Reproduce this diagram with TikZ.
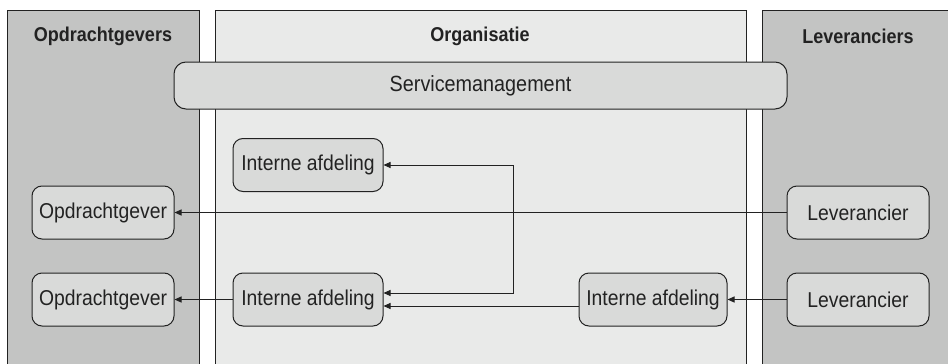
\documentclass[tikz,border=0pt]{standalone}
\usepackage{fontspec}
\setmainfont{Liberation Sans}[FakeStretch=0.9]
\usetikzlibrary{arrows.meta}
\definecolor{panelgray}{HTML}{C3C4C3}
\definecolor{orggray}{HTML}{E9EAE9}
\definecolor{boxgray}{HTML}{D9DAD9}
\definecolor{inkdark}{HTML}{222222}

\begin{document}
\begin{tikzpicture}[x=1pt, y=-1pt,
    panel/.style={draw=inkdark, line width=1pt},
    title/.style={font=\fontsize{20}{24}\selectfont\bfseries, text=inkdark},
    unit/.style={draw=inkdark, fill=boxgray, line width=1pt, rounded corners=10pt,
        font=\fontsize{21.5}{25}\selectfont, text=inkdark, inner sep=0pt,
        minimum height=53pt},
    flow/.style={draw=inkdark, line width=0.9pt, -{Triangle[length=7pt,width=6pt]}},
    twoflow/.style={draw=inkdark, line width=0.9pt, {Triangle[length=7pt,width=6pt]}-{Triangle[length=7pt,width=6pt]}}]
    \def\lanetop{10}
    \def\lanebot{380}
    \def\bendx{513}
    \def\dy{6.5pt}
    \useasboundingbox (0,0) rectangle (948,364);

    % the three lanes
    \fill[white] (0,0) rectangle (948,364);
    \fill[panelgray] (7,\lanetop) rectangle (199,\lanebot);
    \fill[orggray] (215,\lanetop) rectangle (746,\lanebot);
    \fill[panelgray] (762,\lanetop) rectangle (960,\lanebot);
    \draw[panel] (7,\lanebot) -- (7,\lanetop) -- (199,\lanetop) -- (199,\lanebot);
    \draw[panel] (215,\lanebot) -- (215,\lanetop) -- (746,\lanetop) -- (746,\lanebot);
    \draw[panel] (960,\lanetop) -- (762,\lanetop) -- (762,\lanebot);

    \node[title] (tgever) at (103,36) {Opdrachtgevers};
    \node[title] (torg) at (480,36) {Organisatie};
    \node[title] (tlev) at (858,36) {Leveranciers};

    \node[unit, minimum width=613pt, minimum height=47pt, rounded corners=12pt,
        font=\fontsize{22}{26}\selectfont] (sm) at (480.5,85.5) {Servicemanagement};

    % units
    \node[unit, minimum width=150pt] (ia1) at (308,165) {Interne afdeling};
    \node[unit, minimum width=150pt] (ia2) at (308,299.5) {Interne afdeling};
    \node[unit, minimum width=148pt] (ia3) at (653,299.5) {Interne afdeling};
    \foreach \r/\y in {1/212.5, 2/299.5} {
        \node[unit, minimum width=142pt] (og\r) at (103,\y) {Opdrachtgever};
        \node[unit, minimum width=142pt] (lv\r) at (858,\y) {Leverancier};
    }

    % flows
    \coordinate (bend) at (\bendx,0);
    \coordinate (ia2hi) at ([yshift=\dy]ia2.east);
    \coordinate (ia2lo) at ([yshift=-\dy]ia2.east);
    \draw[flow] (lv1) -- (og1);
    \draw[flow] (lv2) -- (ia3);
    \draw[flow] (ia2) -- (og2);
    \draw[flow] (ia3.west |- ia2lo) -- (ia2lo);
    \draw[twoflow] (ia1.east) -- (ia1.east -| bend) -- (bend |- ia2hi) -- (ia2hi);
\end{tikzpicture}
\end{document}
